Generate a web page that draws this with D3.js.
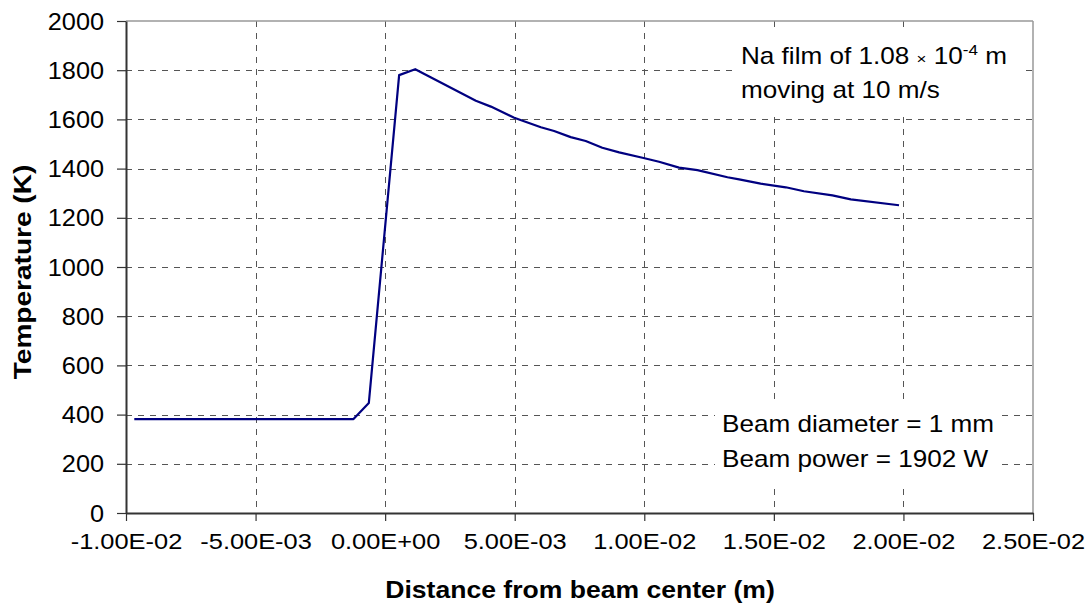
<!DOCTYPE html>
<html>
<head>
<meta charset="utf-8">
<script src="https://cdn.jsdelivr.net/npm/d3@7"></script>
<style>
  html, body { margin: 0; padding: 0; background: #fff; }
  svg { display: block; font-family: "Liberation Sans", Arial, sans-serif; }
</style>
</head>
<body>
<svg id="chart" width="1092" height="610"></svg>
<script>
// Data
const distance = [-0.00968, -0.00122, -0.00063, 0.00054, 0.00116, 0.0035, 0.00408, 0.00498, 0.00601, 0.00652,
                  0.00716, 0.00774, 0.00838, 0.00903, 0.00993, 0.01057, 0.01134, 0.01205, 0.01321, 0.01366,
                  0.01449, 0.01546, 0.01616, 0.01726, 0.01797, 0.01983];
const temperature = [382, 382, 447, 1780, 1804, 1676, 1652, 1607, 1568, 1553,
                     1528, 1512, 1485, 1466, 1444, 1428, 1404, 1394, 1365, 1356,
                     1339, 1324, 1308, 1291, 1275, 1251];
const xTicks = [-0.01, -0.005, 0, 0.005, 0.01, 0.015, 0.02, 0.025];
const yTicks = [0, 200, 400, 600, 800, 1000, 1200, 1400, 1600, 1800, 2000];
const xTitle = "Distance from beam center (m)";
const yTitle = "Temperature (K)";
const noteTop = ["Na film of 1.08", "\u00d7", "10", "-4", " m", "moving at 10 m/s"];
const noteBottom = ["Beam diameter = 1 mm", "Beam power = 1902 W"];

const svg = d3.select("#chart");
const L = 126, R = 1033, T = 21, B = 513;
const x = d3.scaleLinear().domain([-0.01, 0.025]).range([L, R]);
const y = d3.scaleLinear().domain([0, 2000]).range([B, T]);

function sci(v) {
  if (Math.abs(v) < 1e-12) return "0.00E+00";
  const e = Math.floor(Math.log10(Math.abs(v)) + 1e-9);
  const m = v / Math.pow(10, e);
  const es = (e < 0 ? "-" : "+") + String(Math.abs(e)).padStart(2, "0");
  return m.toFixed(2) + "E" + es;
}

// grid
const grid = svg.append("g").attr("stroke", "#555").attr("stroke-width", 1).attr("stroke-dasharray", "6,6");
grid.selectAll("line.h").data(yTicks.filter(d => d > 0 && d < 2000)).enter().append("line")
  .attr("x1", L).attr("x2", R).attr("y1", d => Math.round(y(d)) + 0.5).attr("y2", d => Math.round(y(d)) + 0.5);
grid.selectAll("line.v").data(xTicks.filter(d => d > -0.01 && d < 0.025)).enter().append("line")
  .attr("y1", T).attr("y2", B).attr("x1", d => Math.round(x(d)) + 0.5).attr("x2", d => Math.round(x(d)) + 0.5);

// top/right border
svg.append("line").attr("x1", L).attr("x2", R).attr("y1", T).attr("y2", T).attr("stroke", "#999").attr("stroke-width", 1.5);
svg.append("line").attr("x1", R).attr("x2", R).attr("y1", T).attr("y2", B).attr("stroke", "#999").attr("stroke-width", 1.5);

// annotation backgrounds
svg.append("rect").attr("x", 733).attr("y", 27).attr("width", 290).attr("height", 86).attr("fill", "#fff");
svg.append("rect").attr("x", 715).attr("y", 405).attr("width", 287).attr("height", 78).attr("fill", "#fff");

// axes
const xAxis = d3.axisBottom(x).tickValues(xTicks).tickFormat(sci).tickSize(8).tickSizeOuter(0).tickPadding(8);
const yAxis = d3.axisLeft(y).tickValues(yTicks).tickFormat(d3.format("d")).tickSize(9).tickSizeOuter(0).tickPadding(12);

const gx = svg.append("g").attr("transform", `translate(0,${B})`).call(xAxis);
const gy = svg.append("g").attr("transform", `translate(${L},0)`).call(yAxis);
[gx, gy].forEach(g => {
  g.select(".domain").attr("stroke", "#333").attr("stroke-width", 2);
  g.selectAll(".tick line").attr("stroke", "#333").attr("stroke-width", 1.2);
  g.selectAll(".tick text").attr("fill", "#000").style("font-family", "'Liberation Sans', Arial, sans-serif");
});
const sxX = 1.155, sxY = 1.1;
gx.selectAll(".tick text").style("font-size", "22px").attr("dy", "0.9em")
  .attr("transform", `scale(${sxX},1)`);
gy.selectAll(".tick text").style("font-size", "23px").attr("dy", "0.35em")
  .attr("x", -22 / sxY).attr("transform", `scale(${sxY},1)`);

// line
const line = d3.line().x((d, i) => x(distance[i])).y(d => y(d));
svg.append("path").datum(temperature).attr("d", line)
  .attr("fill", "none").attr("stroke", "#000080").attr("stroke-width", 2.2).attr("stroke-linejoin", "round");

// titles
svg.append("text").attr("transform", "translate(580,598) scale(1.155,1)").attr("text-anchor", "middle")
  .style("font-size", "23px").style("font-weight", "bold").text(xTitle);
svg.append("text").attr("transform", "translate(31,272) rotate(-90) scale(1.22,1)").attr("text-anchor", "middle")
  .style("font-size", "23px").style("font-weight", "bold").text(yTitle);

// top note
const sN = 1.135;
const t1 = svg.append("text").attr("transform", `translate(741,64) scale(${sN},1)`).style("font-size", "23px");
t1.append("tspan").text(noteTop[0] + " ");
t1.append("tspan").style("font-size", "15px").text(noteTop[1]);
t1.append("tspan").text(" " + noteTop[2]);
t1.append("tspan").attr("dy", -9).style("font-size", "15px").text(noteTop[3]);
t1.append("tspan").attr("dy", 9).text(noteTop[4]);
svg.append("text").attr("transform", `translate(741,98) scale(${sN},1)`).style("font-size", "23px").text(noteTop[5]);

// bottom note
svg.selectAll("text.nb").data(noteBottom).enter().append("text")
  .attr("transform", (d, i) => `translate(722,${432 + i * 35}) scale(${sN},1)`).style("font-size", "23px").text(d => d);
</script>
</body>
</html>
